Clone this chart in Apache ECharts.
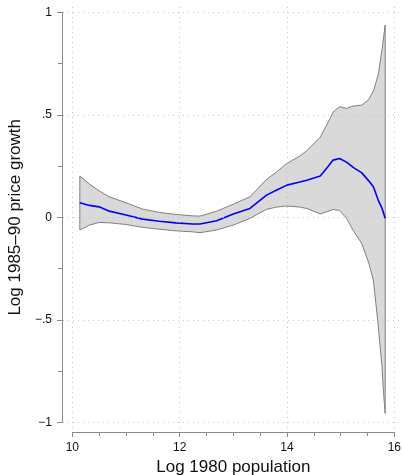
<!DOCTYPE html>
<html>
<head>
<meta charset="utf-8">
<script src="https://cdn.jsdelivr.net/npm/echarts@6/dist/echarts.min.js"></script>
<style>
html,body{margin:0;padding:0;background:#fff;}
#chart{width:403px;height:475px;}
</style>
</head>
<body>
<div id="chart"></div>
<script>
// Log 1980 population (x positions of the smoothed estimate)
const xVals = [10.14, 10.32, 10.50, 10.69, 11.00, 11.31, 11.62, 11.93, 12.24, 12.38,
  12.69, 13.00, 13.31, 13.62, 13.81, 14.00, 14.24, 14.37, 14.62, 14.74,
  14.86, 14.98, 15.11, 15.24, 15.39, 15.52, 15.61, 15.70, 15.77, 15.80, 15.83];
// Upper confidence bound
const upper = [0.201, 0.162, 0.129, 0.100, 0.071, 0.040, 0.024, 0.014, 0.007, 0.006,
  0.030, 0.064, 0.100, 0.185, 0.222, 0.263, 0.299, 0.325, 0.391, 0.450,
  0.513, 0.540, 0.531, 0.543, 0.547, 0.572, 0.616, 0.694, 0.816, 0.877, 0.938];
// Fitted mean
const mean = [0.071, 0.058, 0.051, 0.030, 0.011, -0.009, -0.019, -0.027, -0.033, -0.033,
  -0.017, 0.016, 0.043, 0.108, 0.133, 0.157, 0.172, 0.181, 0.201, 0.239,
  0.279, 0.287, 0.269, 0.242, 0.218, 0.179, 0.149, 0.084, 0.045, 0.020, -0.005];
// Lower confidence bound
const lower = [-0.062, -0.038, -0.025, -0.027, -0.035, -0.049, -0.058, -0.066, -0.071, -0.075,
  -0.062, -0.038, -0.005, 0.039, 0.050, 0.055, 0.050, 0.043, 0.016, 0.027,
  0.038, 0.033, -0.005, -0.067, -0.126, -0.219, -0.306, -0.526, -0.729, -0.859, -0.957];

const xTicks = [10, 12, 14, 16];
const yTicks = [-1, -0.5, 0, 0.5, 1];
const yTickLabels = ['\u22121', '\u2212.5', '0', '.5', '1'];
const xTitle = 'Log 1980 population';
const yTitle = 'Log 1985\u201390 price growth';

const chart = echarts.init(document.getElementById('chart'), null, {renderer: 'canvas'});

const font = 'Liberation Sans, Arial, Helvetica, sans-serif';
const axisColor = '#8a8a8a';

// data grid geometry
const G = {left: 72.3, top: 12.3, width: 322, height: 410};
// background grid (dotted lines extend a bit beyond the data range)
const B = {left: 63, top: 3, right: 400, bottom: 428};
const pxPerX = G.width / 6, pxPerY = G.height / 2;
const bxMin = 10 - (G.left - B.left) / pxPerX;
const bxMax = 16 + (B.right - (G.left + G.width)) / pxPerX;
const byMax = 1 + (G.top - B.top) / pxPerY;
const byMin = -1 - (B.bottom - (G.top + G.height)) / pxPerY;

const meanData = xVals.map((x, i) => [x, mean[i]]);
const bandItem = [[xVals[0], upper[0]]];

const option = {
  backgroundColor: '#fff',
  animation: false,
  grid: [
    {left: G.left, top: G.top, width: G.width, height: G.height, containLabel: false, outerBoundsMode: 'none'},
    {left: B.left, top: B.top, width: B.right - B.left, height: B.bottom - B.top, containLabel: false, outerBoundsMode: 'none'}
  ],
  xAxis: [
    {
      type: 'value', gridIndex: 0, min: 10, max: 16, interval: 2,
      offset: 9.7, position: 'bottom',
      axisLine: {show: true, onZero: false, lineStyle: {color: axisColor, width: 1}},
      axisTick: {show: true, inside: false, length: 5, lineStyle: {color: axisColor}},
      minorTick: {show: true, splitNumber: 4, length: 4, lineStyle: {color: axisColor}},
      splitLine: {show: false},
      axisLabel: {color: '#111', fontFamily: font, fontSize: 12, margin: 10,
        formatter: v => (xTicks.indexOf(v) >= 0 ? String(v) : '')},
      name: xTitle, nameLocation: 'middle', nameGap: 26,
      nameTextStyle: {color: '#111', fontFamily: font, fontSize: 17}
    },
    {type: 'value', gridIndex: 1, min: bxMin, max: bxMax, show: false}
  ],
  yAxis: [
    {
      type: 'value', gridIndex: 0, min: -1, max: 1, interval: 0.5,
      offset: 10.3, position: 'left',
      axisLine: {show: true, onZero: false, lineStyle: {color: axisColor, width: 1}},
      axisTick: {show: true, inside: false, length: 5, lineStyle: {color: axisColor}},
      minorTick: {show: true, splitNumber: 2, length: 4, lineStyle: {color: axisColor}},
      splitLine: {show: false},
      axisLabel: {color: '#111', fontFamily: font, fontSize: 12, margin: 10,
        formatter: v => {
          const i = yTicks.findIndex(t => Math.abs(t - v) < 1e-9);
          return i >= 0 ? yTickLabels[i] : '';
        }},
      name: yTitle, nameLocation: 'middle', nameGap: 36, nameRotate: 90,
      nameTextStyle: {color: '#111', fontFamily: font, fontSize: 17}
    },
    {type: 'value', gridIndex: 1, min: byMin, max: byMax, show: false}
  ],
  series: [
    {
      type: 'line', xAxisIndex: 1, yAxisIndex: 1, silent: true,
      data: [[12, 0]], symbol: 'none', lineStyle: {opacity: 0}, z: 1,
      markLine: {
        silent: true, symbol: 'none', animation: false,
        label: {show: false},
        lineStyle: {color: '#c4c4c4', width: 1, type: [1, 4]},
        data: xTicks.map(v => ({xAxis: v})).concat(yTicks.map(v => ({yAxis: v})))
      }
    },
    {
      type: 'custom', xAxisIndex: 0, yAxisIndex: 0, z: 2, silent: true,
      data: bandItem,
      renderItem: function (params, api) {
        const pts = [];
        for (let i = 0; i < xVals.length; i++) pts.push(api.coord([xVals[i], upper[i]]));
        for (let i = xVals.length - 1; i >= 0; i--) pts.push(api.coord([xVals[i], lower[i]]));
        return {
          type: 'polygon',
          shape: {points: pts},
          style: {fill: '#d9d9d9', stroke: '#808080', lineWidth: 1}
        };
      }
    },
    {
      type: 'line', xAxisIndex: 0, yAxisIndex: 0, z: 3, silent: true,
      data: meanData, symbol: 'none', smooth: false,
      lineStyle: {color: '#0000ff', width: 1.6}
    }
  ]
};
chart.setOption(option);
</script>
</body>
</html>
